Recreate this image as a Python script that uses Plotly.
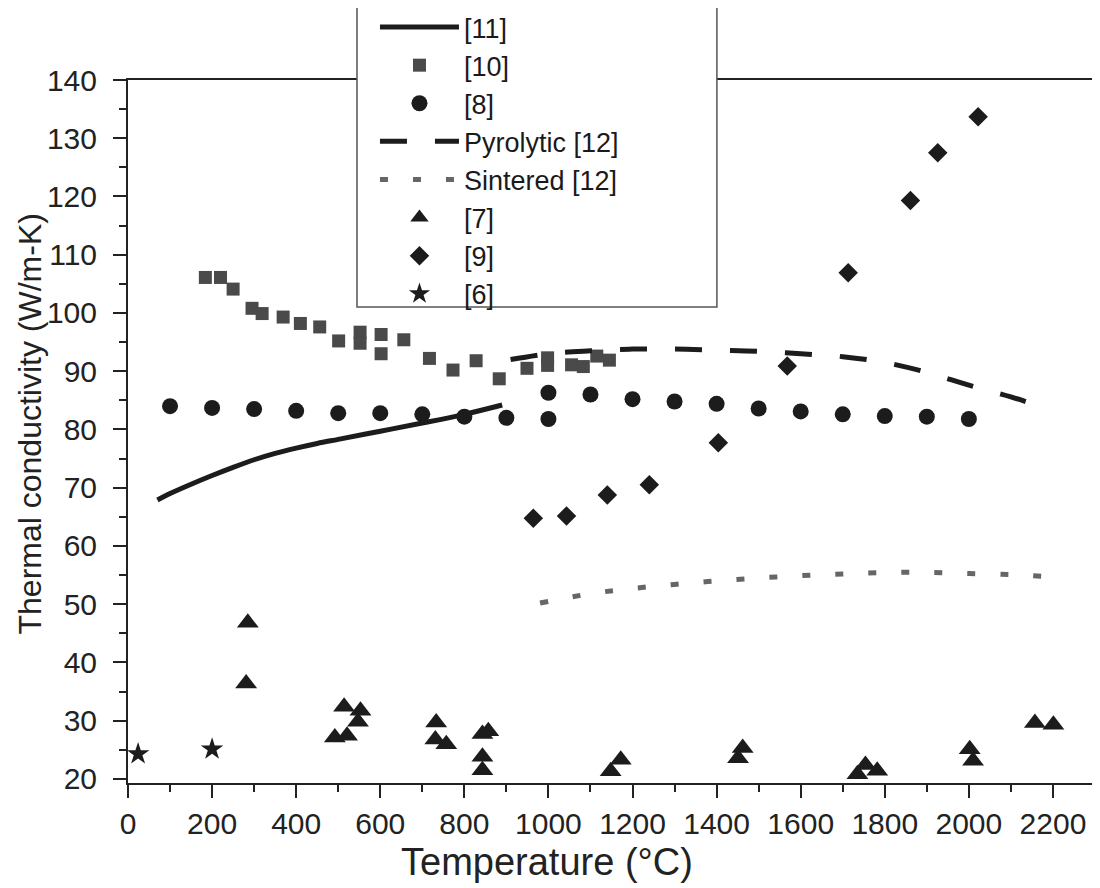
import plotly.graph_objects as go

# [11] solid curve
t11 = [70, 100, 150, 200, 250, 300, 350, 400, 450, 500, 600, 700, 800, 890]
k11 = [67.9, 69.0, 70.6, 72.1, 73.5, 74.8, 75.9, 76.8, 77.6, 78.3, 79.7, 81.1, 82.6, 84.2]

# [10] squares
t10 = [184, 220, 250, 295, 319, 369, 410, 456, 501, 552, 552, 602, 602, 656, 717,
       773, 828, 883, 949, 998, 998, 1055, 1083, 1115, 1145]
k10 = [106.1, 106.1, 104.1, 100.8, 99.9, 99.3, 98.2, 97.6, 95.2, 96.7, 94.8, 96.3,
       93.0, 95.4, 92.2, 90.2, 91.8, 88.7, 90.5, 92.3, 91.0, 91.1, 90.8, 92.6, 91.9]

# [8] circles
t8 = [100, 200, 300, 400, 500, 600, 700, 800, 900, 1000, 1000, 1100, 1200, 1300,
      1400, 1500, 1600, 1700, 1800, 1900, 2000]
k8 = [84.0, 83.7, 83.5, 83.2, 82.8, 82.8, 82.6, 82.2, 82.0, 81.8, 86.3, 86.0, 85.2,
      84.8, 84.4, 83.6, 83.1, 82.6, 82.3, 82.2, 81.8]

# Pyrolytic [12]
t_pyro = [910, 1000, 1100, 1200, 1300, 1400, 1500, 1600, 1700, 1800, 1900, 2000, 2100, 2160]
k_pyro = [92.0, 93.0, 93.5, 93.8, 93.8, 93.6, 93.4, 93.0, 92.5, 91.5, 89.8, 87.6, 85.6, 84.2]

# Sintered [12]
t_sint = [980, 1100, 1200, 1300, 1400, 1500, 1600, 1700, 1800, 1900, 2000, 2100, 2175]
k_sint = [50.2, 51.8, 52.7, 53.4, 54.0, 54.5, 54.9, 55.2, 55.45, 55.45, 55.25, 55.1, 54.8]

# [7] triangles
t7 = [285, 281, 514, 553, 547, 492, 521, 733, 731, 757, 843, 857, 843, 843, 1172,
      1148, 1462, 1451, 1754, 1735, 1782, 2002, 2010, 2157, 2201]
k7 = [46.8, 36.4, 32.4, 31.7, 29.8, 27.1, 27.4, 29.7, 26.75, 25.95, 27.7, 28.2, 23.8,
      21.5, 23.3, 21.3, 25.3, 23.55, 22.4, 20.8, 21.4, 25.1, 23.1, 29.6, 29.3]

# [9] diamonds
t9 = [964, 1043, 1140, 1240, 1404, 1568, 1713, 1861, 1926, 2022]
k9 = [64.75, 65.15, 68.75, 70.5, 77.7, 90.9, 106.9, 119.3, 127.5, 133.7]

# [6] stars
t6 = [24, 200]
k6 = [24.3, 25.1]

x_ticks = list(range(0, 2201, 200))
y_ticks = list(range(20, 141, 10))

dark = '#1c1c1c'
family = 'Liberation Sans, Arial, sans-serif'
fig = go.Figure()

fig.add_trace(go.Scatter(x=t11, y=k11, mode='lines', name='[11]',
                         line=dict(color=dark, width=5, shape='spline')))
fig.add_trace(go.Scatter(x=t10, y=k10, mode='markers', name='[10]',
                         marker=dict(symbol='square', size=13, color='#4a4a4a')))
fig.add_trace(go.Scatter(x=t8, y=k8, mode='markers', name='[8]',
                         marker=dict(symbol='circle', size=16, color=dark)))
fig.add_trace(go.Scatter(x=t_pyro, y=k_pyro, mode='lines', name='Pyrolytic [12]',
                         line=dict(color=dark, width=5, dash='27px,28px', shape='spline')))
fig.add_trace(go.Scatter(x=t_sint, y=k_sint, mode='lines', name='Sintered [12]',
                         line=dict(color='#666666', width=5, dash='8px,25px', shape='spline')))
fig.add_trace(go.Scatter(x=t7, y=k7, mode='markers', name='[7]',
                         marker=dict(symbol='triangle-up', size=19, color=dark)))
fig.add_trace(go.Scatter(x=t9, y=k9, mode='markers', name='[9]',
                         marker=dict(symbol='diamond', size=15, color=dark)))
fig.add_trace(go.Scatter(x=t6, y=k6, mode='markers', name='[6]',
                         marker=dict(symbol='star', size=17, color=dark)))

axis_font = dict(family=family, size=30, color='#222')
minor_x = dict(dtick=100, tick0=0, ticklen=7, tickwidth=2, tickcolor='#222')
minor_y = dict(dtick=5, tick0=0, ticklen=7, tickwidth=2, tickcolor='#222')

# page body has an 8px margin, so the figure is sized to fit inside it
fig.update_layout(
    width=1092, height=880,
    paper_bgcolor='white', plot_bgcolor='white',
    margin=dict(l=120, r=5, t=72, b=105, autoexpand=False),
    font=axis_font,
    xaxis=dict(
        range=[0, 2300], tickvals=x_ticks, ticks='outside', ticklen=13, tickwidth=2,
        tickcolor='#222', showline=True, linecolor='#222', linewidth=2, mirror=True,
        showgrid=False, zeroline=False, tickfont=axis_font,
        minor=dict(ticks='outside', **minor_x),
    ),
    yaxis=dict(
        range=[19.3, 140], tickvals=y_ticks, ticks='outside', ticklen=13, tickwidth=2,
        tickcolor='#222', showline=True, linecolor='#222', linewidth=2, mirror=True,
        showgrid=False, zeroline=False, tickfont=axis_font, ticklabelstandoff=10,
        minor=dict(ticks='outside', **minor_y),
    ),
    xaxis2=dict(
        overlaying='x', side='top', range=[0, 2300], tickvals=x_ticks, ticks='inside',
        ticklen=12, tickwidth=2, tickcolor='#222', showticklabels=False, showgrid=False,
        zeroline=False, showline=False, minor=dict(ticks='inside', **minor_x),
    ),
    yaxis2=dict(
        overlaying='y', side='right', range=[19.3, 140], tickvals=y_ticks, ticks='inside',
        ticklen=12, tickwidth=2, tickcolor='#222', showticklabels=False, showgrid=False,
        zeroline=False, showline=False, minor=dict(ticks='inside', **minor_y),
    ),
    showlegend=True,
    legend=dict(
        x=0.2554, y=1.1095, xanchor='left', yanchor='top',
        bgcolor='rgba(0,0,0,0)', borderwidth=0,
        font=dict(family=family, size=27, color='#1a1a1a'),
        itemwidth=79, tracegroupgap=0,
    ),
    shapes=[dict(type='rect', xref='paper', yref='paper', x0=0.2368, x1=0.609,
                 y0=0.677, y1=1.12, fillcolor='white',
                 line=dict(color='#555', width=1.5), layer='above')],
    annotations=[
        dict(text='Temperature (°C)', xref='paper', yref='paper', x=0.433, y=-0.112,
             xanchor='center', yanchor='middle', showarrow=False,
             font=dict(family=family, size=38, color='#222')),
        dict(text='Thermal conductivity (W/m-K)', xref='paper', yref='paper', x=-0.1013,
             y=0.51, xanchor='center', yanchor='middle', textangle=-90, showarrow=False,
             font=dict(family=family, size=32, color='#222')),
    ],
)

fig.write_html("out.html")
